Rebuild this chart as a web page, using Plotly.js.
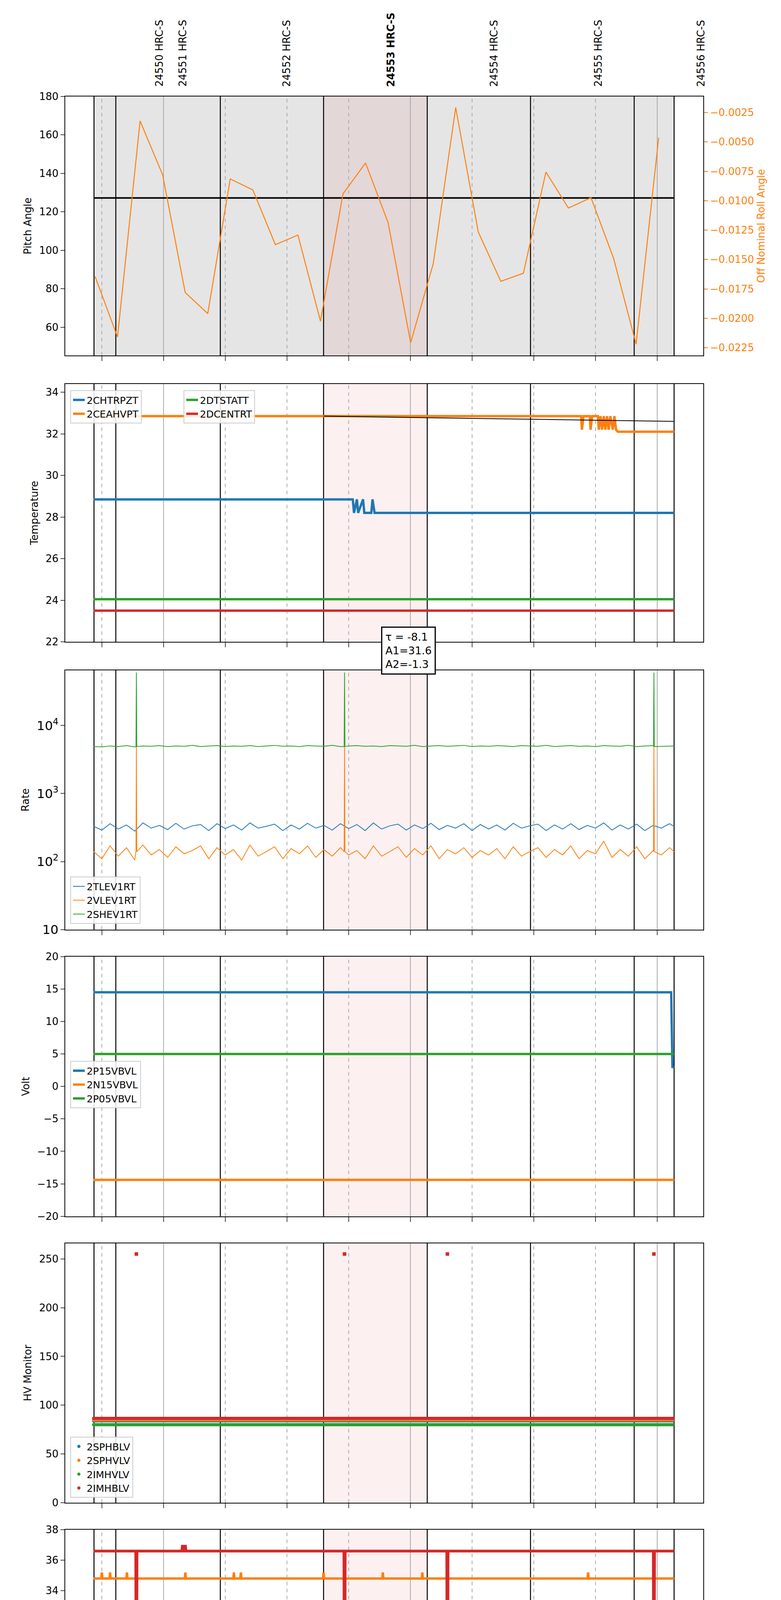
<!DOCTYPE html>
<html>
<head>
<meta charset="utf-8">
<script src="https://cdn.plot.ly/plotly-3.0.1.min.js"></script>
<style>body{margin:0;background:#fff}</style>
</head>
<body>
<div id="chart" style="width:2000px;height:5400px"></div>
<script>
// times are minutes after 2021-09-09 00:00
const obsidStarts = [-16.9, -11.6, 13.8, 38.9, 64.1, 89.2, 114.4, 124.1];
const obsidLabels = ["24550 HRC-S", "24551 HRC-S", "24552 HRC-S", "24553 HRC-S", "24554 HRC-S", "24555 HRC-S", "24556 HRC-S"];
const obsidLabelPos = [-1.1, 4.6, 29.9, 55.3, 80.3, 105.6, 130.6];
const activeObsid = [38.9, 64.1];
const dataStart = -17.0, dataEnd = 124.1;

// pitch / roll
const rollTimes = [-16.65, -11.17, -5.69, -0.21, 5.27, 10.75, 16.23, 21.71, 27.19, 32.67, 38.15, 43.63, 49.11, 54.59, 60.07, 65.55, 71.03, 76.51, 81.99, 87.47, 92.95, 98.43, 103.91, 109.39, 114.87, 120.35];
const rollValues = [-0.01644, -0.02159, -0.00322, -0.00780, -0.01781, -0.01960, -0.00815, -0.00908, -0.01374, -0.01292, -0.02025, -0.00942, -0.00679, -0.01186, -0.02207, -0.01537, -0.00207, -0.01266, -0.01686, -0.01617, -0.00756, -0.01063, -0.00974, -0.01489, -0.02220, -0.00465];
const pitchNominal = 127.2;

// temperature
const chtrpztTimes = [-17, 46.0, 46.3, 47.0, 47.3, 48.5, 48.8, 50.5, 50.8, 51.3, 124.1];
const chtrpztValues = [28.85, 28.85, 28.2, 28.85, 28.2, 28.85, 28.2, 28.2, 28.85, 28.2, 28.2];
const ceahvptTimes = [-17, 101.5, 101.7, 102.1, 103.6, 103.8, 104.2, 105.6, 105.8, 106.2, 106.6, 107.0, 107.4, 107.8, 108.2, 108.6, 109.2, 109.6, 110.0, 110.4, 124.1];
const ceahvptValues = [32.85, 32.85, 32.2, 32.85, 32.85, 32.2, 32.85, 32.85, 32.2, 32.85, 32.2, 32.85, 32.2, 32.85, 32.2, 32.85, 32.2, 32.85, 32.2, 32.1, 32.1];
const fitTimes = [38.9, 50, 60, 70, 80, 90, 100, 110, 124.1];
const fitValues = [32.85, 32.82, 32.79, 32.76, 32.73, 32.70, 32.67, 32.64, 32.60];
const dtstattValue = 24.05;
const dcentrtValue = 23.5;

// rates (hand read, sparse)
const rateTimes = [-17, -15, -13, -11, -9, -7, -5, -3, -1, 1, 3, 5, 7, 9, 11, 13, 15, 17, 19, 21, 23, 25, 27, 29, 31, 33, 35, 37, 39, 41, 43, 45, 47, 49, 51, 53, 55, 57, 59, 61, 63, 65, 67, 69, 71, 73, 75, 77, 79, 81, 83, 85, 87, 89, 91, 93, 95, 97, 99, 101, 103, 105, 107, 109, 111, 113, 115, 117, 119, 121, 123, 124.1];
const tlevValues = [330, 290, 360, 300, 345, 280, 370, 310, 340, 295, 365, 300, 335, 350, 285, 360, 305, 345, 290, 370, 310, 330, 355, 285, 345, 300, 365, 310, 340, 290, 360, 305, 350, 285, 370, 300, 335, 355, 290, 345, 305, 365, 295, 340, 310, 360, 285, 350, 300, 345, 290, 365, 310, 335, 355, 285, 345, 300, 360, 295, 340, 310, 370, 290, 345, 300, 355, 285, 340, 310, 360, 330];
const vlevValues = [140, 110, 170, 120, 160, 105, 175, 125, 150, 115, 165, 130, 145, 170, 110, 160, 125, 150, 105, 175, 120, 140, 165, 110, 155, 130, 170, 115, 150, 120, 160, 125, 145, 110, 170, 120, 140, 165, 115, 155, 125, 170, 110, 150, 130, 160, 115, 145, 125, 155, 110, 165, 120, 140, 160, 115, 150, 125, 170, 110, 145, 130, 200, 115, 150, 120, 165, 110, 145, 125, 160, 140];
const shevValues = [4900, 4850, 5000, 4900, 5050, 4850, 5000, 4950, 5050, 4900, 5000, 4950, 5100, 4900, 5000, 5050, 4900, 5000, 4950, 5050, 4900, 5000, 5100, 4950, 5000, 4900, 5050, 5000, 4950, 5100, 4900, 5000, 5050, 4950, 5000, 4900, 5050, 5000, 4950, 5100, 4900, 5000, 5050, 4950, 5000, 5100, 4900, 5000, 4950, 5050, 5000, 4900, 5050, 5000, 4950, 5100, 4900, 5000, 5050, 4950, 5000, 4900, 5050, 5000, 4950, 5100, 4900, 5000, 5050, 4950, 5000, 5000];
const spikeTimes = [-6.6, 44.0, 69.0, 119.2];
const rateSpikeTimes = [-6.6, 44.0, 119.2];
const vlevSpike = 5000;
const shevSpike = 60000;

// volts
const p15Value = 14.5, p15DropTime = 123.4, p15DropValue = 3.0;
const n15Value = -14.4;
const p05Value = 5.0;

// HV monitor
const sphblvValue = 84, sphvlvValue = 85, imhvlvValue = 80, imhblvValue = 86.5, imhblvSpike = 255;

// detector temp
const spinatmValue = 22.4, spinatmDipTime = [29.2], spinatmDipValue = [21.7];
const sphvatmValue = 34.8;
const sphvatmBumpTimes = [-15, -13, -8.9, 5.3, 17.1, 18.8, 38.9, 53.3, 62.9, 103.2];
const sphvatmBumpValues = [35.2, 35.2, 35.2, 35.2, 35.2, 35.2, 35.2, 35.2, 35.2, 35.2];
const imingatmValue = 23.2;
const iminatmBumpTimes = [23.0, 77.5, 78.5, 111.7];
const iminatmBumpValues = [23.9, 23.85, 23.85, 23.9];
const imhvatmValue = 36.6;
const imhvatmBumpTimes = [4.6, 5.3];
const imhvatmBumpValues = [37.0, 37.0];
const imhvatmDropValue = 20.0;

// FEA temp
const fhtrmztValue = 26.4;
const fradpytValue = 21.8;
const fepratmValue = 27.75, fepratmDropValue = 25.3;
const fe00atmValue = 25.3;
const fe00atmBandEnd = -8.0, fe00atmBandLow = 25.15, fe00atmBandHigh = 25.6;
const fe00atmSpikeTimes = [-11.6, -1.7, 10.1, 11.1, 12.1, 21.9, 23.0, 37.1, 49.8, 50.8, 54.7, 68.0, 73.6, 79.9, 85.8, 100.9, 102.5, 103.5, 105.8, 106.8, 120.9];
const fe00atmSpikeValues = [24.6, 26.0, 24.9, 26.3, 25.8, 26.0, 27.4, 24.9, 25.6, 25.6, 25.6, 26.0, 24.9, 25.6, 25.6, 24.6, 26.0, 25.6, 25.6, 26.0, 26.0];
const fe00atmDropValue = 19.5;

const tickMinutes = [-15, 0, 15, 30, 45, 60, 75, 90, 105, 120];
const tickLabels = ["45", "<br>00h", "15", "30", "45", "<br>01h", "15", "30", "45", "<br>02h"];

const BLUE = "#1f77b4", ORANGE = "#ff7f0e", GREEN = "#2ca02c", RED = "#d62728";

function ts(m) {
  const d = new Date(Date.UTC(2021, 8, 9) + Math.round(m * 60000));
  return d.toISOString().replace("T", " ").slice(0, 19);
}

// baseline with short excursions at given times
function withSpikes(base, times, values, t0 = dataStart, t1 = dataEnd) {
  const pts = [[t0, base], [t1, base]];
  times.forEach((t, i) => pts.push([t - 0.15, base], [t, values[i]], [t + 0.15, base]));
  pts.sort((a, b) => a[0] - b[0]);
  return { x: pts.map(p => ts(p[0])), y: pts.map(p => p[1]) };
}

const domainsY = [
  [0.8315, 0.9543], [0.6957, 0.818], [0.5593, 0.6823], [0.4234, 0.5465],
  [0.2876, 0.4106], [0.1518, 0.2748], [0.016, 0.139],
];

const traces = [];
function add(tr, panel) {
  tr.xaxis = panel === 1 ? "x" : "x" + panel;
  tr.yaxis = panel === 1 ? "y" : "y" + panel;
  traces.push(tr);
}

// panel 1
add({ x: [ts(dataStart + 0.1), ts(dataEnd)], y: [pitchNominal, pitchNominal], mode: "lines", line: { color: "#000", width: 4 }, showlegend: false }, 1);
traces.push({ x: rollTimes.map(ts), y: rollValues, mode: "lines", line: { color: ORANGE, width: 2.5 }, xaxis: "x", yaxis: "y8", showlegend: false });

// panel 2
add({ x: chtrpztTimes.map(ts), y: chtrpztValues, mode: "lines", name: "2CHTRPZT", line: { color: BLUE, width: 6 }, legend: "legend" }, 2);
add({ x: ceahvptTimes.map(ts), y: ceahvptValues, mode: "lines", name: "2CEAHVPT", line: { color: ORANGE, width: 6 }, legend: "legend" }, 2);
add({ x: fitTimes.map(ts), y: fitValues, mode: "lines", line: { color: "#000", width: 2 }, showlegend: false }, 2);
add({ x: [ts(dataStart), ts(dataEnd)], y: [dtstattValue, dtstattValue], mode: "lines", name: "2DTSTATT", line: { color: GREEN, width: 6 }, legend: "legend2" }, 2);
add({ x: [ts(dataStart), ts(dataEnd)], y: [dcentrtValue, dcentrtValue], mode: "lines", name: "2DCENTRT", line: { color: RED, width: 6 }, legend: "legend2" }, 2);

// panel 3
function spikedSeries(times, vals, sTimes, sVal) {
  const pts = times.map((t, i) => [t, vals[i]]);
  sTimes.forEach(t => pts.push([t - 0.1, vals[0]], [t, sVal], [t + 0.1, vals[0]]));
  pts.sort((a, b) => a[0] - b[0]);
  return { x: pts.map(p => ts(p[0])), y: pts.map(p => p[1]) };
}
add({ x: rateTimes.map(ts), y: tlevValues, mode: "lines", name: "2TLEV1RT", line: { color: BLUE, width: 2 }, legend: "legend3" }, 3);
const vl = spikedSeries(rateTimes, vlevValues, rateSpikeTimes, vlevSpike);
add({ x: vl.x, y: vl.y, mode: "lines", name: "2VLEV1RT", line: { color: ORANGE, width: 2 }, legend: "legend3" }, 3);
const sh = spikedSeries(rateTimes, shevValues, rateSpikeTimes, shevSpike);
add({ x: sh.x, y: sh.y, mode: "lines", name: "2SHEV1RT", line: { color: GREEN, width: 2 }, legend: "legend3" }, 3);

// panel 4
add({ x: [ts(dataStart), ts(p15DropTime), ts(p15DropTime + 0.3), ts(dataEnd)], y: [p15Value, p15Value, p15DropValue, p15DropValue], mode: "lines", name: "2P15VBVL", line: { color: BLUE, width: 6 }, legend: "legend4" }, 4);
add({ x: [ts(dataStart), ts(dataEnd)], y: [n15Value, n15Value], mode: "lines", name: "2N15VBVL", line: { color: ORANGE, width: 6 }, legend: "legend4" }, 4);
add({ x: [ts(dataStart), ts(dataEnd)], y: [p05Value, p05Value], mode: "lines", name: "2P05VBVL", line: { color: GREEN, width: 6 }, legend: "legend4" }, 4);

// panel 5
[[sphblvValue, BLUE, "2SPHBLV"], [sphvlvValue, ORANGE, "2SPHVLV"], [imhvlvValue, GREEN, "2IMHVLV"], [imhblvValue, RED, "2IMHBLV"]].forEach(([v, c, n]) => {
  add({ x: [ts(dataStart), ts(dataEnd)], y: [v, v], mode: "lines", line: { color: c, width: 8 }, showlegend: false }, 5);
  add({ x: [ts(dataStart)], y: [v], mode: "markers", name: n, marker: { color: c, size: 8 }, legend: "legend5" }, 5);
});
add({ x: spikeTimes.map(ts), y: spikeTimes.map(() => imhblvSpike), mode: "markers", marker: { color: RED, size: 9, symbol: "square" }, showlegend: false }, 5);

// panel 6
let s = withSpikes(spinatmValue, spinatmDipTime, spinatmDipValue);
add({ x: s.x, y: s.y, mode: "lines", name: "2SPINATM", line: { color: BLUE, width: 6 }, legend: "legend6" }, 6);
s = withSpikes(sphvatmValue, sphvatmBumpTimes, sphvatmBumpValues);
add({ x: s.x, y: s.y, mode: "lines", name: "2SPHVATM", line: { color: ORANGE, width: 6 }, legend: "legend6" }, 6);
s = withSpikes(imingatmValue, iminatmBumpTimes, iminatmBumpValues);
add({ x: s.x, y: s.y, mode: "lines", name: "2IMINATM", line: { color: GREEN, width: 6 }, legend: "legend6" }, 6);
s = withSpikes(imhvatmValue, imhvatmBumpTimes.concat(spikeTimes), imhvatmBumpValues.concat(spikeTimes.map(() => imhvatmDropValue)));
add({ x: s.x, y: s.y, mode: "lines", name: "2IMHVATM", line: { color: RED, width: 7 }, legend: "legend6" }, 6);

// panel 7
add({ x: [ts(dataStart), ts(dataEnd)], y: [fhtrmztValue, fhtrmztValue], mode: "lines", name: "2FHTRMZT", line: { color: BLUE, width: 6 }, legend: "legend7" }, 7);
add({ x: [ts(dataStart), ts(dataEnd)], y: [fradpytValue, fradpytValue], mode: "lines", name: "2FRADPYT", line: { color: ORANGE, width: 6 }, legend: "legend7" }, 7);
s = withSpikes(fepratmValue, spikeTimes, spikeTimes.map(() => fepratmDropValue));
add({ x: s.x, y: s.y, mode: "lines", name: "2FEPRATM", line: { color: GREEN, width: 7 }, legend: "legend7" }, 7);
s = withSpikes(fe00atmValue, fe00atmSpikeTimes.concat(spikeTimes), fe00atmSpikeValues.concat(spikeTimes.map(() => fe00atmDropValue)));
add({ x: s.x, y: s.y, mode: "lines", name: "2FE00ATM", line: { color: RED, width: 6 }, legend: "legend7" }, 7);
add({ x: [ts(dataStart), ts(fe00atmBandEnd), ts(fe00atmBandEnd), ts(dataStart), ts(dataStart)], y: [fe00atmBandLow, fe00atmBandLow, fe00atmBandHigh, fe00atmBandHigh, fe00atmBandLow], mode: "lines", fill: "toself", fillcolor: RED, line: { color: RED, width: 2 }, showlegend: false }, 7);

// layout
const xr = [ts(-23.9), ts(131.2)];
const layout = {
  width: 2000, height: 5400,
  margin: { l: 0, r: 0, t: 0, b: 0 },
  paper_bgcolor: "#fff", plot_bgcolor: "rgba(0,0,0,0)",
  font: { family: "DejaVu Sans", size: 24, color: "#000" },
  shapes: [], annotations: [],
};
const yRanges = [[45.3, 180], [22, 34.4], [1, Math.log10(65000)], [-20, 20], [0, 266], [21, 38], [20.5, 29.2]];
const yTitles = ["Pitch Angle", "Temperature", "Rate", "Volt", "HV Monitor", "Detector Temp", "FEA Temp"];
const yDticks = [20, 2, 1, 5, 50, 2, 1];
for (let p = 1; p <= 7; p++) {
  const xa = p === 1 ? "xaxis" : "xaxis" + p;
  const ya = p === 1 ? "yaxis" : "yaxis" + p;
  const yName = p === 1 ? "y" : "y" + p;
  const xName = p === 1 ? "x" : "x" + p;
  layout[xa] = {
    domain: [0.0835, 0.9005], anchor: yName, type: "date", range: xr,
    tickvals: tickMinutes.map(ts), ticktext: p === 7 ? tickLabels : tickMinutes.map(() => ""),
    ticks: "outside", ticklen: 12, tickwidth: 2, showgrid: false, zeroline: false,
    showline: true, linecolor: "#000", linewidth: 2, mirror: true, tickfont: { size: 24 },
  };
  if (p !== 1) layout[xa].matches = "x";
  if (p === 7) layout[xa].title = { text: "2021-09-09 (252)", font: { size: 34 }, standoff: 10 };
  layout[ya] = {
    domain: domainsY[p - 1], anchor: xName, range: yRanges[p - 1], dtick: yDticks[p - 1],
    ticks: "outside", ticklen: 10, tickwidth: 2, showgrid: false, zeroline: false,
    showline: true, linecolor: "#000", linewidth: 2, mirror: p !== 1,
    title: { text: yTitles[p - 1], font: { size: 26 }, standoff: 12 }, tickfont: { size: 26 },
  };
  if (p === 3) { layout[ya].type = "log"; layout[ya].exponentformat = "power"; }

  const xref = xName, yref = yName + " domain";
  if (p === 1) {
    layout.shapes.push({ type: "rect", xref, yref, x0: ts(obsidStarts[0]), x1: ts(obsidStarts[obsidStarts.length - 1]), y0: 0, y1: 1, fillcolor: "#e5e5e5", line: { width: 0 }, layer: "below" });
  }
  layout.shapes.push({ type: "rect", xref, yref, x0: ts(activeObsid[0]), x1: ts(activeObsid[1]), y0: 0, y1: 1, fillcolor: "rgba(214,39,40,0.07)", line: { width: 0 }, layer: "below" });
  tickMinutes.forEach(m => {
    const hour = m % 60 === 0;
    layout.shapes.push({ type: "line", xref, yref, x0: ts(m), x1: ts(m), y0: 0, y1: 1, line: { color: "#aaa", width: 2, dash: hour ? "solid" : "dash" }, layer: "below" });
  });
  obsidStarts.forEach(m => {
    layout.shapes.push({ type: "line", xref, yref, x0: ts(m), x1: ts(m), y0: 0, y1: 1, line: { color: "#000", width: 2.5 }, layer: "below" });
  });
}
layout.yaxis8 = {
  overlaying: "y", side: "right", anchor: "x", range: [-0.02316, -0.00113],
  tickvals: [-0.0025, -0.005, -0.0075, -0.01, -0.0125, -0.015, -0.0175, -0.02, -0.0225],
  ticktext: ["−0.0025", "−0.0050", "−0.0075", "−0.0100", "−0.0125", "−0.0150", "−0.0175", "−0.0200", "−0.0225"],
  ticks: "outside", ticklen: 10, tickwidth: 2, tickcolor: ORANGE, showgrid: false, zeroline: false,
  showline: true, linecolor: "#000", linewidth: 2,
  tickfont: { size: 26, color: ORANGE },
  title: { text: "Off Nominal Roll Angle", font: { size: 26, color: ORANGE }, standoff: 10 },
};

// obsid labels on top
obsidLabels.forEach((lab, i) => {
  layout.annotations.push({
    xref: "x", yref: "paper", x: ts(obsidLabelPos[i]), y: 0.9585, yanchor: "bottom", xanchor: "center",
    text: lab === "24553 HRC-S" ? "<b>" + lab + "</b>" : lab, textangle: -90, showarrow: false, font: { size: 26 },
  });
});
// fit parameters
layout.annotations.push({
  xref: "x2", yref: "y2 domain", x: ts(59.5), y: 0.06, xanchor: "center", yanchor: "top", align: "left",
  text: "τ = -8.1<br>A1=31.6<br>A2=-1.3", showarrow: false, bgcolor: "#fff", bordercolor: "#000", borderwidth: 3, borderpad: 8, font: { size: 27 },
});

const leg = (x, y, yanchor, xanchor = "left") => ({ x, y, xanchor, yanchor, bgcolor: "rgba(255,255,255,0.85)", bordercolor: "#ccc", borderwidth: 2, font: { size: 25 }, tracegroupgap: 0 });
layout.legend = leg(0.09, 0.815, "top");
layout.legend2 = leg(0.235, 0.815, "top");
layout.legend3 = leg(0.09, 0.562, "bottom");
layout.legend4 = leg(0.09, 0.497, "top");
layout.legend5 = leg(0.09, 0.29, "bottom");
layout.legend6 = leg(0.897, 0.216, "middle", "right");
layout.legend7 = leg(0.09, 0.019, "bottom");

Plotly.newPlot("chart", traces, layout, { displayModeBar: false, staticPlot: true });
</script>
</body>
</html>
